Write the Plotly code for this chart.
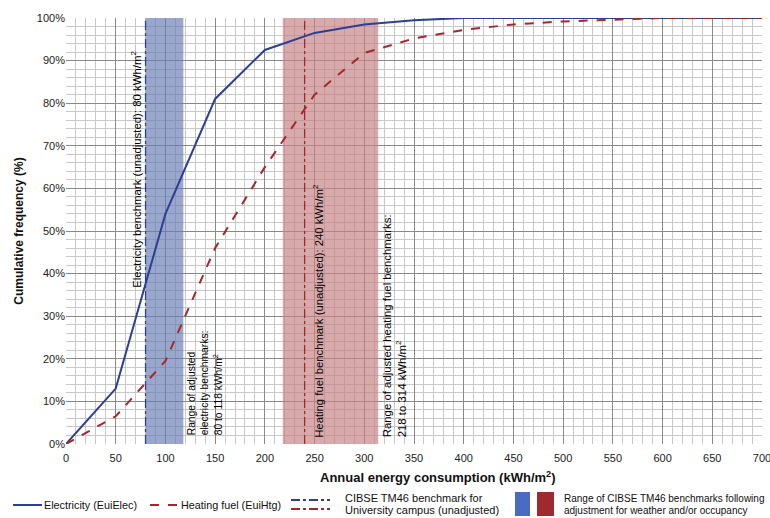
import plotly.graph_objects as go

# ---- data ----
energy = [0, 50, 100, 150, 200, 250, 300, 350, 400, 450, 500, 550, 600, 650, 700]
elec_cum = [0, 13, 54, 81, 92.5, 96.5, 98.5, 99.5, 100, 100, 100, 100, 100, 100, 100]
heat_cum = [0, 6.5, 19.5, 46, 65, 82, 91.8, 95.2, 97.2, 98.5, 99.2, 99.6, 100, 100, 100]

elec_benchmark = 80
heat_benchmark = 240
elec_range = [80, 118]
heat_range = [218, 314]

x_ticks = list(range(0, 701, 50))
y_ticks = list(range(0, 101, 10))

BLUE = "#2b3f94"
RED = "#a3282c"
BLUE_BAND = "rgba(105,125,180,0.68)"
RED_BAND = "rgba(198,130,133,0.68)"
FONT = "Arial, Liberation Sans, sans-serif"

fig = go.Figure()

# bands (data rectangles)
fig.add_trace(go.Scatter(x=[elec_range[0], elec_range[1], elec_range[1], elec_range[0], elec_range[0]],
                         y=[0, 0, 100, 100, 0], fill="toself", fillcolor=BLUE_BAND,
                         line=dict(width=0), mode="lines", hoverinfo="skip", showlegend=False))
fig.add_trace(go.Scatter(x=[heat_range[0], heat_range[1], heat_range[1], heat_range[0], heat_range[0]],
                         y=[0, 0, 100, 100, 0], fill="toself", fillcolor=RED_BAND,
                         line=dict(width=0), mode="lines", hoverinfo="skip", showlegend=False))
# benchmark lines
fig.add_trace(go.Scatter(x=[elec_benchmark, elec_benchmark], y=[0, 100], mode="lines",
                         line=dict(color=BLUE, width=1.3, dash="dashdot"), showlegend=False))
fig.add_trace(go.Scatter(x=[heat_benchmark, heat_benchmark], y=[0, 100], mode="lines",
                         line=dict(color=RED, width=1.3, dash="dashdot"), showlegend=False))
# curves
fig.add_trace(go.Scatter(x=energy, y=elec_cum, mode="lines", name="Electricity (EuiElec)",
                         line=dict(color=BLUE, width=2), showlegend=False))
fig.add_trace(go.Scatter(x=energy, y=heat_cum, mode="lines", name="Heating fuel (EuiHtg)",
                         line=dict(color=RED, width=2, dash="dash"), showlegend=False))

fig.update_xaxes(range=[0, 700], tickvals=x_ticks, ticktext=[str(v) for v in x_ticks],
                 showgrid=True, gridcolor="#8a8a8a", gridwidth=1, automargin=False,
                 minor=dict(dtick=10, showgrid=True, gridcolor="#c8c8c8", gridwidth=1),
                 zeroline=False, showline=False, ticks="", ticklabeloverflow="allow",
                 ticklabelstandoff=6,
                 tickfont=dict(family=FONT, size=11, color="#222"))
fig.update_yaxes(range=[0, 100], tickvals=y_ticks, ticktext=[f"{v}%" for v in y_ticks],
                 showgrid=True, gridcolor="#8a8a8a", gridwidth=1, automargin=False,
                 minor=dict(dtick=2, showgrid=True, gridcolor="#c8c8c8", gridwidth=1),
                 zeroline=False, showline=False, ticks="",
                 tickfont=dict(family=FONT, size=11, color="#222"),
                 title=dict(text="<b>Cumulative frequency (%)</b>",
                            font=dict(family=FONT, size=12, color="#111"), standoff=10))

ann_font = dict(family=FONT, size=10.3, color="#000")
big_font = dict(family=FONT, size=11.4, color="#000")
annotations = [
    dict(x=71, y=64.5, xref="x", yref="y", text="Electricity benchmark (unadjusted): 80 kWh/m<sup>2</sup>",
         textangle=-90, showarrow=False, font=big_font, xanchor="center", yanchor="middle"),
    dict(x=140, y=1.5, xref="x", yref="y",
         text="Range of adjusted<br>electricity benchmarks:<br>80 to 118 kWh/m<sup>2</sup>",
         textangle=-90, showarrow=False, font=ann_font, align="left", xanchor="center", yanchor="bottom"),
    dict(x=254, y=1, xref="x", yref="y", text="Heating fuel benchmark (unadjusted): 240 kWh/m<sup>2</sup>",
         textangle=-90, showarrow=False, font=dict(family=FONT, size=11.3, color="#000"),
         xanchor="center", yanchor="bottom"),
    dict(x=330, y=1, xref="x", yref="y",
         text="Range of adjusted heating fuel benchmarks:<br>218 to 314 kWh/m<sup>2</sup>",
         textangle=-90, showarrow=False, font=big_font, align="left", xanchor="center", yanchor="bottom"),
]

# ---- pixel helpers for paper-positioned items ----
W, H = 770, 518
L, R, T, B = 66, 8, 18, 74
pw, ph = W - L - R, H - T - B
def px(x): return (x - L) / pw
def py(y): return (H - B - y) / ph

# x-axis title (offset right as in the reference)
annotations.append(dict(xref="paper", yref="paper", x=px(437), y=py(477),
                        text="<b>Annual energy consumption (kWh/m<sup>2</sup>)</b>", showarrow=False,
                        xanchor="center", yanchor="middle", font=dict(family=FONT, size=13, color="#111")))

shapes = []
def leg_text(x, y, s, size=10.8):
    annotations.append(dict(xref="paper", yref="paper", x=px(x), y=py(y), text=s, showarrow=False,
                            xanchor="left", yanchor="middle",
                            font=dict(family=FONT, size=size, color="#111")))

shapes.append(dict(type="line", xref="paper", yref="paper", x0=px(13), x1=px(42), y0=py(505), y1=py(505),
                   line=dict(color=BLUE, width=2)))
leg_text(42, 505, "Electricity (EuiElec)")
shapes.append(dict(type="line", xref="paper", yref="paper", x0=px(150), x1=px(178), y0=py(505), y1=py(505),
                   line=dict(color=RED, width=2, dash="dash")))
leg_text(179, 505, "Heating fuel (EuiHtg)")
shapes.append(dict(type="line", xref="paper", yref="paper", x0=px(291), x1=px(330), y0=py(500), y1=py(500),
                   line=dict(color=BLUE, width=2, dash="dashdot")))
shapes.append(dict(type="line", xref="paper", yref="paper", x0=px(291), x1=px(330), y0=py(509), y1=py(509),
                   line=dict(color=RED, width=2, dash="dashdot")))
leg_text(343, 498, "CIBSE TM46 benchmark for", 11)
leg_text(343, 510, "University campus (unadjusted)", 11)
shapes.append(dict(type="rect", xref="paper", yref="paper", x0=px(515), x1=px(530), y0=py(516), y1=py(492),
                   fillcolor="#4a6cc0", line=dict(width=0)))
shapes.append(dict(type="rect", xref="paper", yref="paper", x0=px(537), x1=px(554), y0=py(516), y1=py(492),
                   fillcolor="#9e2a2f", line=dict(width=0)))
leg_text(562, 498, "Range of CIBSE TM46 benchmarks following", 10)
leg_text(562, 510, "adjustment for weather and/or occupancy", 10)

fig.update_layout(width=W, height=H, margin=dict(l=L, r=R, t=T, b=B),
                  paper_bgcolor="white", plot_bgcolor="white",
                  annotations=annotations, shapes=shapes, showlegend=False,
                  font=dict(family=FONT))

fig.write_html("out.html")
